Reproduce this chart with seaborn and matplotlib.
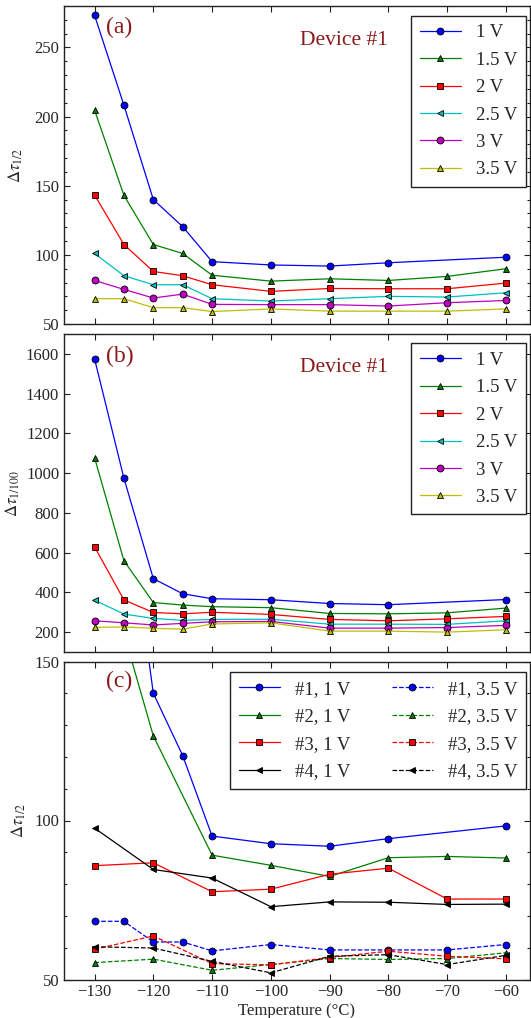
import numpy as np
import pandas as pd
import matplotlib
matplotlib.use("Agg")
import matplotlib.pyplot as plt
from matplotlib.ticker import MultipleLocator
import seaborn as sns

# ---------------- data ----------------
temps = [-130, -125, -120, -115, -110, -100, -90, -80, -70, -60]
nan = np.nan

voltages = ["1 V", "1.5 V", "2 V", "2.5 V", "3 V", "3.5 V"]

# Panel (a): Delta tau_{1/2}, device #1
a_1v = [273.3, 208.2, 140.0, 120.4, 95.1, 92.7, 91.9, 94.3, nan, 98.3]
a_15v = [204.8, 143.0, 107.5, 101.0, 85.3, 81.0, 82.7, 81.5, 84.4, 90.0]
a_2v = [143.3, 107.5, 88.0, 84.9, 78.4, 73.6, 75.7, 75.5, 75.5, 79.6]
a_25v = [101.0, 84.9, 78.4, 78.4, 68.3, 66.6, 68.3, 70.0, 69.5, 72.6]
a_3v = [81.5, 75.0, 68.8, 71.6, 64.2, 64.0, 64.0, 63.0, 65.4, 67.0]
a_35v = [68.3, 68.3, 61.8, 61.8, 59.0, 60.9, 59.3, 59.3, 59.3, 60.9]

# Panel (b): Delta tau_{1/100}, device #1
b_1v = [1575, 974, 469, 393, 368, 363, 344, 338, nan, 364]
b_15v = [1078, 559, 349, 336, 328, 323, 294, 292, 297, 321]
b_2v = [629, 362, 299, 292, 300, 289, 264, 257, 267, 279]
b_25v = [361, 291, 269, 259, 264, 265, 240, 240, 239, 257]
b_3v = [257, 247, 236, 244, 252, 254, 220, 220, 223, 234]
b_35v = [224, 226, 219, 215, 241, 247, 205, 205, 200, 212]

# Panel (c): Delta tau_{1/2}, devices #1-#4 at 1 V and 3.5 V
c_labels_1v = ["#1, 1 V", "#2, 1 V", "#3, 1 V", "#4, 1 V"]
c_labels_35v = ["#1, 3.5 V", "#2, 3.5 V", "#3, 3.5 V", "#4, 3.5 V"]
c1_1v = [273.3, 208.2, 140.0, 120.4, 95.1, 92.7, 91.9, 94.3, nan, 98.3]
c2_1v = [191.0, nan, 126.6, nan, 89.1, 85.9, 82.4, 88.3, 88.7, 88.2]
c3_1v = [85.8, nan, 86.7, nan, 77.6, 78.4, 83.1, 85.0, 75.3, 75.3]
c4_1v = [97.6, nan, 84.6, nan, 81.9, 72.9, 74.4, 74.3, 73.6, 73.7]
c1_35v = [68.3, 68.3, 61.8, 61.8, 59.0, 61.0, 59.3, 59.3, 59.3, 61.0]
c2_35v = [55.3, nan, 56.4, nan, 52.9, 54.7, 56.6, 56.3, 56.6, 58.4]
c3_35v = [59.5, nan, 63.7, nan, 55.0, 54.6, 56.9, 58.9, 57.3, 56.5]
c4_35v = [60.3, nan, 59.9, nan, 55.7, 52.1, 57.3, 57.8, 54.7, 57.6]

xticks = [-130, -120, -110, -100, -90, -80, -70, -60]

# ---------------- style ----------------
sns.set_theme(style="ticks")
plt.rcParams["font.family"] = ["Liberation Serif", "DejaVu Serif"]
plt.rcParams["mathtext.fontset"] = "stix"
plt.rcParams["axes.unicode_minus"] = True

colors6 = [(0, 0, 1), (0, 0.5, 0), (1, 0, 0), (0, 0.75, 0.75), (0.75, 0, 0.75), (0.75, 0.75, 0)]
markers6 = ["o", "^", "s", "<", "o", "^"]
colors4 = [(0, 0, 1), (0, 0.5, 0), (1, 0, 0), (0, 0, 0)]
markers4 = ["o", "^", "s", "<"]
darkred = "#8b1a1a"

fig = plt.figure(figsize=(5.31, 10.18), dpi=100)
L, W = 64 / 531, 466 / 531
H = 318 / 1018
axa = fig.add_axes([L, 1 - 324 / 1018, W, H])
axb = fig.add_axes([L, 1 - 652 / 1018, W, H])
axc = fig.add_axes([L, 1 - 979.5 / 1018, W, H])


def draw(ax, vals, color, marker, label, ls="-"):
    df = pd.DataFrame({"T": temps, "v": vals}).dropna()
    sns.lineplot(data=df, x="T", y="v", ax=ax, color=color, marker=marker,
                 markersize=5, markeredgecolor="black", markeredgewidth=0.6,
                 linewidth=0.9, linestyle=ls, label=label, sort=True,
                 errorbar=None)


for vals, c, m, lab in zip([a_1v, a_15v, a_2v, a_25v, a_3v, a_35v], colors6, markers6, voltages):
    draw(axa, vals, c, m, lab)
for vals, c, m, lab in zip([b_1v, b_15v, b_2v, b_25v, b_3v, b_35v], colors6, markers6, voltages):
    draw(axb, vals, c, m, lab)
for vals, c, m, lab in zip([c1_1v, c2_1v, c3_1v, c4_1v], colors4, markers4, c_labels_1v):
    draw(axc, vals, c, m, lab)
for vals, c, m, lab in zip([c1_35v, c2_35v, c3_35v, c4_35v], colors4, markers4, c_labels_35v):
    draw(axc, vals, c, m, lab, ls="--")

axa.set_ylim(50, 280)
axb.set_ylim(100, 1700)
axc.set_ylim(50, 150)
for ax in (axa, axb, axc):
    ax.set_xlim(-135.2, -55.9)
    ax.set_xticks(xticks)
    ax.tick_params(direction="in", which="both", top=True, right=True,
                   labelsize=12, width=0.8, color="#222222")
    ax.tick_params(which="major", length=4)
    ax.tick_params(which="minor", length=2)
    for s in ax.spines.values():
        s.set_linewidth(1.0)
        s.set_color("#222222")
    ax.set_xlabel("")

for ax in (axa, axc):
    ax.yaxis.set_major_locator(MultipleLocator(50))
    ax.yaxis.set_minor_locator(MultipleLocator(10))
axb.yaxis.set_major_locator(MultipleLocator(200))

axa.tick_params(labelbottom=False)
axb.tick_params(labelbottom=False)

axa.set_ylabel(r"$\Delta\tau_{1/2}$", fontsize=12)
axb.set_ylabel(r"$\Delta\tau_{1/100}$", fontsize=12)
axc.set_ylabel(r"$\Delta\tau_{1/2}$", fontsize=12)
axa.yaxis.set_label_coords(-0.083, 0.5)
axb.yaxis.set_label_coords(-0.09, 0.5)
axc.yaxis.set_label_coords(-0.078, 0.5)

axc.set_xlabel("Temperature (°C)", fontsize=12)
axc.xaxis.set_label_coords(0.5, -0.075)

# panel letters and annotations
axa.text(0.09, 0.931, "(a)", transform=axa.transAxes, fontsize=17, color=darkred, ha="left", va="center")
axb.text(0.09, 0.9286, "(b)", transform=axb.transAxes, fontsize=17, color=darkred, ha="left", va="center")
axc.text(0.09, 0.937, "(c)", transform=axc.transAxes, fontsize=17, color=darkred, ha="left", va="center")
axa.text(0.506, 0.890, "Device #1", transform=axa.transAxes, fontsize=15.5, color=darkred, ha="left", va="center")
axb.text(0.506, 0.896, "Device #1", transform=axb.transAxes, fontsize=15.5, color=darkred, ha="left", va="center")

leg_kw = dict(loc="upper right", borderaxespad=0, fancybox=False, framealpha=1,
              edgecolor="#222222", fontsize=13.5, numpoints=1, handlelength=2.2,
              handletextpad=0.8, borderpad=0.45, labelspacing=0.55)
for ax, y in ((axa, 0.9695), (axb, 0.9708)):
    lg = ax.legend(bbox_to_anchor=(0.9908, y), **leg_kw)
    lg.get_frame().set_linewidth(1.0)

lgc = axc.legend(bbox_to_anchor=(0.9908, 0.966), ncol=2, columnspacing=2.2, **leg_kw)
lgc.get_frame().set_linewidth(1.0)

fig.savefig("out.png", dpi=100)
